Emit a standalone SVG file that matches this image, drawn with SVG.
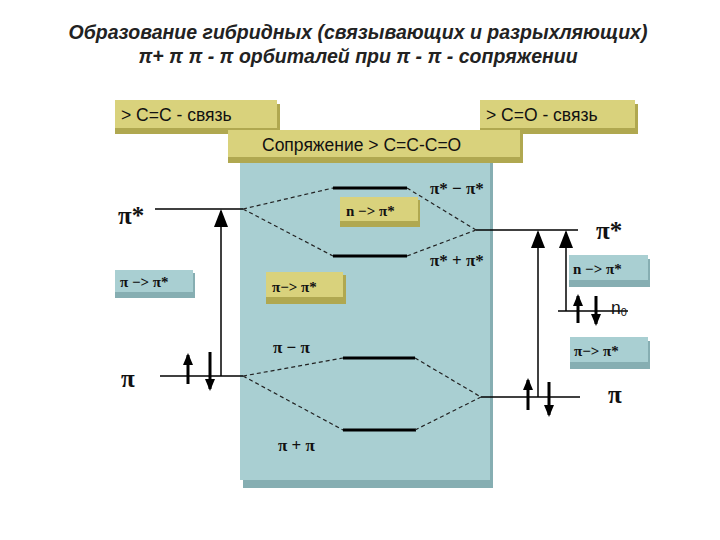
<svg xmlns="http://www.w3.org/2000/svg" width="720" height="540" viewBox="0 0 720 540">
<defs>
<style>
.title{font-family:"Liberation Sans",Arial,sans-serif;font-size:19.5px;font-weight:bold;font-style:italic;fill:#222}
.tan{fill:#d9d27c}
.tanS{fill:#b0a850}
.blue{fill:#a9cfd2}
.blueS{fill:#86aeb2}
.bl{font-family:"Liberation Sans",Arial,sans-serif;font-size:17.5px;fill:#111}
.gr{font-family:"Liberation Serif","Times New Roman",serif;font-weight:bold;fill:#111}
.lvl{stroke:#000;stroke-width:3}
.thin{stroke:#000;stroke-width:1.5;fill:none}
.dash{stroke:#222;stroke-width:1.2;stroke-dasharray:4,3;fill:none}
.arr{stroke:#000;stroke-width:3;fill:none}
</style>
<marker id="ahB" markerWidth="18" markerHeight="14" refX="16" refY="7" orient="auto" markerUnits="userSpaceOnUse" viewBox="0 0 18 14"><path d="M0,0 L18,7 L0,14 Z" fill="#000"/></marker>
<marker id="ahS" markerWidth="12" markerHeight="10" refX="10" refY="5" orient="auto" markerUnits="userSpaceOnUse" viewBox="0 0 12 10"><path d="M0,0 L12,5 L0,10 Z" fill="#000"/></marker>
</defs>
<text class="title" x="358" y="39" text-anchor="middle">Образование гибридных (связывающих и разрыхляющих)</text>
<text class="title" x="358" y="63" text-anchor="middle">π+ π π - π орбиталей при π - π - сопряжении</text>

<g id="main-panel"><rect class="blueS" x="243" y="163" width="250" height="325"/><rect class="blue" x="240" y="160" width="250" height="320"/></g>
<g id="cc-bond"><rect class="tanS" x="115" y="104" width="165" height="30"/><rect class="tan" x="115" y="100" width="162" height="28"/><text class="bl" x="121" y="121">&gt; C=C - связь</text></g>
<g id="co-bond"><rect class="tanS" x="480" y="104" width="158" height="30"/><rect class="tan" x="480" y="100" width="155" height="28"/><text class="bl" x="486" y="121">&gt; C=O - связь</text></g>
<g id="conj"><rect class="tanS" x="228" y="133" width="295" height="30"/><rect class="tan" x="228" y="130" width="292" height="27"/><text class="bl" x="262" y="151">Сопряжение &gt; C=C-C=O</text></g>

<g id="box-n-mid"><rect class="tanS" x="340" y="200" width="80" height="27"/><rect class="tan" x="340" y="197" width="78" height="24"/><text class="gr" x="346" y="216" font-size="15">n −&gt; π*</text></g>
<g id="box-pi-mid"><rect class="tanS" x="266" y="275" width="80" height="29"/><rect class="tan" x="266" y="272" width="77" height="25"/><text class="gr" x="272" y="292" font-size="15">π−&gt; π*</text></g>
<g id="box-pi-left"><rect class="blueS" x="115" y="273" width="80" height="25"/><rect class="blue" x="115" y="270" width="78" height="22"/><text class="gr" x="120" y="287" font-size="15">π −&gt; π*</text></g>
<g id="box-n-right"><rect class="blueS" x="569" y="259" width="81" height="28"/><rect class="blue" x="569" y="255" width="79" height="25"/><text class="gr" x="573" y="274" font-size="15">n −&gt; π*</text></g>
<g id="box-pi-right"><rect class="blueS" x="570" y="341" width="80" height="28"/><rect class="blue" x="570" y="337" width="78" height="25"/><text class="gr" x="574" y="356" font-size="15">π−&gt; π*</text></g>

<g id="levels">
<line class="lvl" x1="333" y1="188" x2="407" y2="188"/>
<line class="lvl" x1="333" y1="256" x2="407" y2="256"/>
<line class="lvl" x1="343" y1="358" x2="415" y2="358"/>
<line class="lvl" x1="343" y1="430" x2="416" y2="430"/>
<line class="thin" x1="155" y1="209" x2="243" y2="209"/>
<line class="thin" x1="476" y1="230" x2="578" y2="230"/>
<line class="thin" x1="160" y1="376" x2="243" y2="376"/>
<line class="thin" x1="481" y1="397" x2="580" y2="397"/>
<line class="thin" x1="558" y1="311" x2="628" y2="311"/>
</g>
<g id="labels">
<text class="gr" x="118" y="224" font-size="25">π*</text>
<text class="gr" x="596" y="239" font-size="25">π*</text>
<text class="gr" x="121" y="387" font-size="25">π</text>
<text class="gr" x="608" y="403" font-size="25">π</text>
<text class="gr" x="430" y="194" font-size="17">π* − π*</text>
<text class="gr" x="430" y="266" font-size="17">π* + π*</text>
<text class="gr" x="273" y="353" font-size="17">π − π</text>
<text class="gr" x="278" y="451" font-size="17">π + π</text>
<text class="bl" x="611" y="314" font-size="16">n<tspan font-size="11" dy="2">0</tspan></text>
</g>
<g id="connectors">
<path class="dash" d="M243,209 L333,188 M243,209 L333,256 M407,188 L476,230 M407,256 L476,230"/>
<path class="dash" d="M243,376 L343,358 M243,376 L343,430 M415,358 L481,397 M415,430 L481,397"/>
<line class="thin" x1="221" y1="376" x2="221" y2="211" stroke-width="2" marker-end="url(#ahB)"/>
<line class="thin" x1="538" y1="397" x2="538" y2="232" stroke-width="2" marker-end="url(#ahB)"/>
<line class="thin" x1="566" y1="311" x2="566" y2="232" stroke-width="1.5" marker-end="url(#ahB)"/>
<line class="arr" x1="188" y1="384" x2="188" y2="355" marker-end="url(#ahS)"/>
<line class="arr" x1="210" y1="352" x2="210" y2="389" marker-end="url(#ahS)"/>
<line class="arr" x1="528" y1="410" x2="528" y2="380" marker-end="url(#ahS)"/>
<line class="arr" x1="549" y1="382" x2="549" y2="415" marker-end="url(#ahS)"/>
<line class="arr" x1="578" y1="323" x2="578" y2="296" marker-end="url(#ahS)"/>
<line class="arr" x1="596" y1="296" x2="596" y2="324" marker-end="url(#ahS)"/>
</g>
</svg>
